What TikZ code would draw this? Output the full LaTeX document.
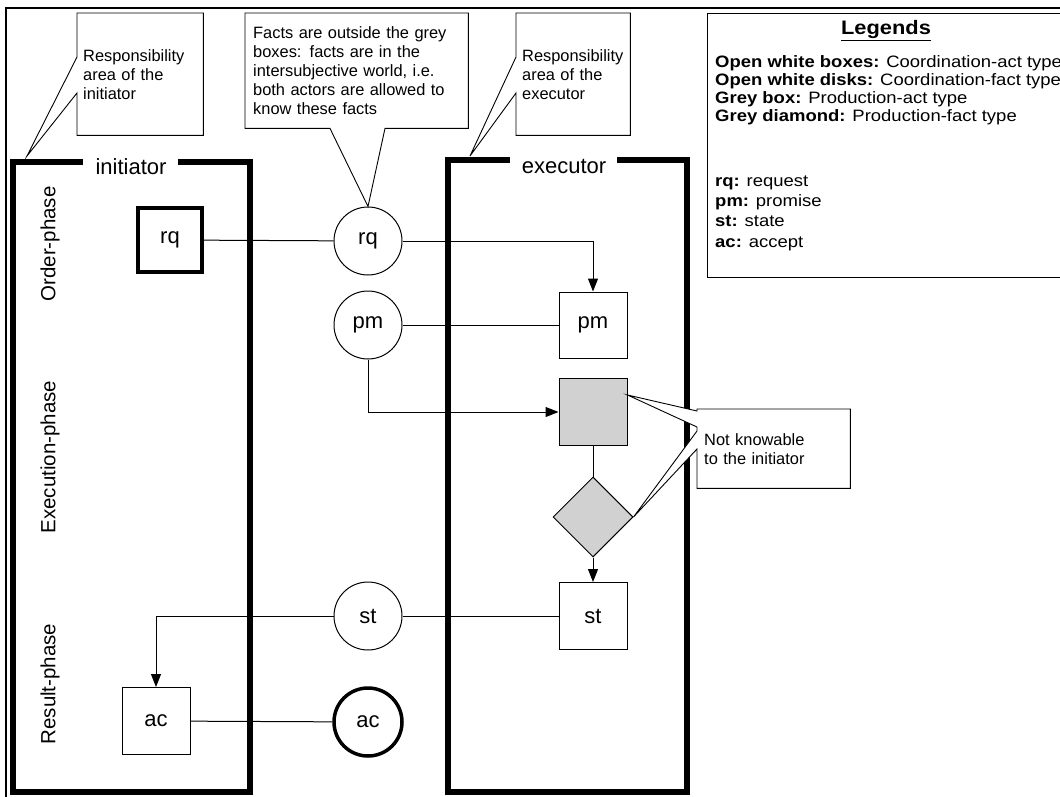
\documentclass[tikz,border=0pt]{standalone}
\usepackage{fontspec}
\setmainfont{Liberation Sans}
\newfontfamily\legendfont[FakeStretch=1.12]{Liberation Sans}
\usetikzlibrary{arrows.meta,shapes.geometric,calc}
\pgfdeclarelayer{front}
\pgfsetlayers{main,front}

\begin{document}
\begin{tikzpicture}[x=1pt,y=-1pt,
  lane/.style={line width=6.5pt, line join=miter},
  lanetitle/.style={font=\fontsize{22}{26}\selectfont, inner sep=0pt},
  phase/.style={font=\fontsize{20.5}{24}\selectfont, rotate=90, inner sep=0pt},
  act/.style={draw, line width=1pt, minimum width=68pt, minimum height=66pt,
    inner sep=0pt, fill=white, font=\fontsize{22}{26}\selectfont},
  fact/.style={draw, circle, line width=1pt, minimum size=68pt, inner sep=0pt,
    fill=white, font=\fontsize{22}{26}\selectfont},
  prodact/.style={act, fill=black!18},
  prodfact/.style={draw, diamond, aspect=1, line width=1pt, minimum width=80pt,
    minimum height=80pt, inner sep=0pt, fill=black!18},
  link/.style={line width=1pt},
  flow/.style={line width=1pt, -{Triangle[length=13pt,width=10pt]}},
  callout/.style={font=\fontsize{16.4}{19}\selectfont, align=left,
    inner xsep=6pt, inner ysep=0pt},
  calloutline/.style={draw, line width=0.9pt, fill=white, line join=miter},
  legendtext/.style={font=\legendfont\fontsize{16.5}{19}\selectfont, inner sep=0pt, anchor=base west}
]
\useasboundingbox (0,0) rectangle (1060,797);
\clip (0,0) rectangle (1060,797);
\fill[white] (0,0) rectangle (1060,797);

% outer frame
\draw[line width=1.2pt] (6,830) -- (6,8) -- (1090,8);

% actor lanes with their titles
\node[lanetitle, anchor=base] (iniT) at (131,175) {initiator};
\node[lanetitle, anchor=base] (exeT) at (564,173) {executor};
\draw[lane] (83,162) -- (13,162) -- (13,792) -- (250,792) -- (250,162) -- (178,162);
\draw[lane] (510,160) -- (448,160) -- (448,792) -- (687,792) -- (687,160) -- (617,160);

% phases
\node[phase] (ph1) at (50,244) {Order-phase};
\node[phase] (ph2) at (50,457) {Execution-phase};
\node[phase] (ph3) at (50,684) {Result-phase};

% acts and facts
\node[act, line width=3.5pt, minimum width=64pt, minimum height=64pt] (rqa) at (170,240) {rq};
\node[fact] (rqf) at (368,241) {rq};
\node[fact] (pmf) at (368,325) {pm};
\node[act] (pma) at (593,325) {pm};
\node[prodact, minimum height=67pt] (prod) at (593,412) {};
\node[prodfact] (pfact) at (593,517) {};
\node[act, minimum height=67pt] (sta) at (593,616) {st};
\node[fact] (stf) at (368,616) {st};
\node[act, minimum height=67pt] (aca) at (156,721) {ac};
\node[fact, line width=3.5pt] (acf) at (368,722) {ac};

% connectors
\draw[link] (rqa) -- (rqf);
\draw[flow] (rqf.east) -| (pma.north);
\draw[link] (pmf) -- (pma);
\draw[flow] (pmf.south) |- (prod.west);
\draw[link] (prod) -- (pfact);
\draw[flow] (pfact.south) -- (sta.north);
\draw[link] (sta) -- (stf);
\draw[flow] (stf.west) -| (aca.north);
\draw[link] (aca) -- (acf);

% callouts
\coordinate (tipI) at (27,156);
\coordinate (tipE) at (470,156);
\coordinate (tipP) at ($(prod.north east)+(0,17)$);
\begin{pgfonlayer}{front}
\node[callout, anchor=north west, minimum width=126pt, minimum height=122pt, text width=114pt] (c1) at (77,13)
  {Responsibility\\area of the\\initiator};
\node[callout, anchor=north west, minimum width=223pt, minimum height=115pt, text width=207pt, inner xsep=8pt] (c2) at (245,13)
  {Facts are outside the grey\\boxes: facts are in the\\intersubjective world, i.e.\\both actors are allowed to\\know these facts};
\node[callout, anchor=north west, minimum width=114pt, minimum height=122pt, text width=102pt] (c3) at (516,13)
  {Responsibility\\area of the\\executor};
\node[callout, anchor=north west, minimum width=153pt, minimum height=79pt, text width=139pt, inner xsep=7pt] (c4) at (697,409)
  {Not knowable\\to the initiator};
\end{pgfonlayer}
\draw[calloutline] (c1.north west) -- (c1.north east) -- (c1.south east) -- (c1.south west)
  -- ($(c1.north west)+(0,80)$) -- (tipI) -- ($(c1.north west)+(0,44)$) -- cycle;
\draw[calloutline] (c2.north west) -- (c2.north east) -- (c2.south east)
  -- ($(c2.south west)+(140,0)$) -- (rqf.north) -- ($(c2.south west)+(85,0)$) -- (c2.south west) -- cycle;
\draw[calloutline] (c3.north west) -- (c3.north east) -- (c3.south east) -- (c3.south west)
  -- ($(c3.north west)+(0,80)$) -- (tipE) -- ($(c3.north west)+(0,44)$) -- cycle;
\draw[calloutline] (c4.north west) -- (c4.north east) -- (c4.south east) -- (c4.south west)
  -- ($(c4.north west)+(0,40)$) -- (pfact.east) -- ($(c4.north west)+(0,22)$)
  -- ($(c4.north west)+(0,18)$) -- (tipP) -- ($(c4.north west)+(0,2)$) -- cycle;

% legend
\node[draw, line width=1.3pt, anchor=north west, minimum width=380pt, minimum height=264pt, inner sep=0pt] (legend) at (707,13) {};
\node[font=\legendfont\bfseries\fontsize{19.5}{22}\selectfont, inner sep=0pt, anchor=base] (lgT) at (886,35) {\underline{Legends}};
\node[legendtext] (lg1) at (715,68) {\textbf{Open white boxes:} Coordination-act type};
\node[legendtext] (lg2) at (715,86) {\textbf{Open white disks:} Coordination-fact type};
\node[legendtext] (lg3) at (715,104) {\textbf{Grey box:} Production-act type};
\node[legendtext] (lg4) at (715,122) {\textbf{Grey diamond:} Production-fact type};
\node[legendtext] (lg5) at (715,186) {\textbf{rq:} request};
\node[legendtext] (lg6) at (715,206) {\textbf{pm:} promise};
\node[legendtext] (lg7) at (715,226) {\textbf{st:} state};
\node[legendtext] (lg8) at (715,247) {\textbf{ac:} accept};
\end{tikzpicture}
\end{document}
